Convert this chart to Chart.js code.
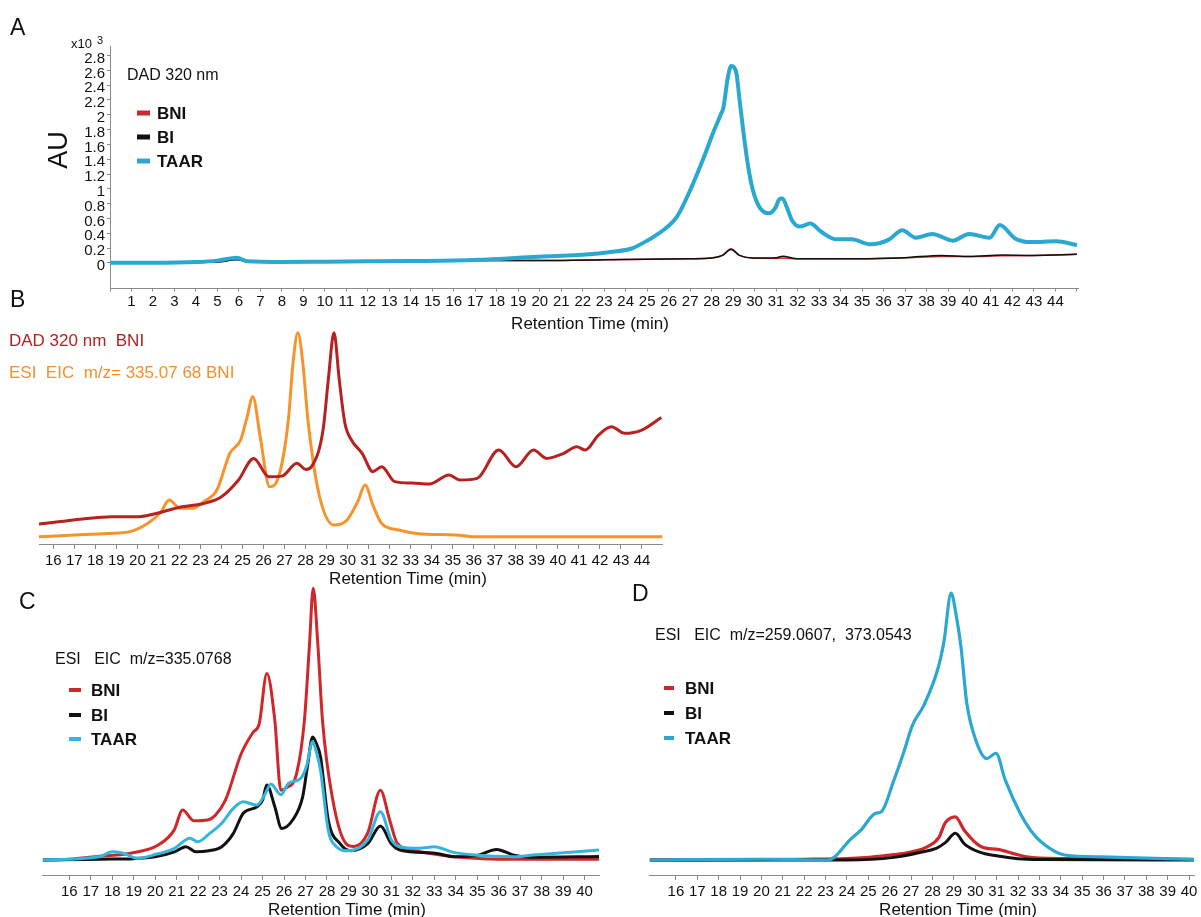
<!DOCTYPE html>
<html>
<head>
<meta charset="utf-8">
<script src="https://cdn.jsdelivr.net/npm/chart.js@4/dist/chart.umd.min.js"></script>
<style>
body{margin:0;background:#fff;width:1201px;height:917px;overflow:hidden;position:relative;font-family:'Liberation Sans',Arial,sans-serif;color:#111}
canvas{position:absolute}
.t{position:absolute;white-space:pre;line-height:1;transform:translateY(-50%)}
.c{transform:translate(-50%,-50%)}
.lg{position:absolute;transform:translateY(-50%)}
.b{font-weight:bold;font-size:17px}
</style>
</head>
<body>
<canvas id="chartA" width="1100" height="340" style="left:0;top:0"></canvas>
<canvas id="chartB" width="680" height="265" style="left:0;top:325px"></canvas>
<canvas id="chartC" width="620" height="332" style="left:0;top:585px"></canvas>
<canvas id="chartD" width="571" height="332" style="left:630px;top:585px"></canvas>

<div class="t" style="left:10px;top:27px;font-size:23px">A</div>
<div class="t" style="left:10px;top:299px;font-size:23px">B</div>
<div class="t" style="left:19px;top:601px;font-size:23px">C</div>
<div class="t" style="left:632px;top:593px;font-size:23px">D</div>

<div class="t" style="left:71px;top:43px;font-size:13px">x10</div>
<div class="t" style="left:97px;top:40px;font-size:11px">3</div>
<div class="t c" style="left:58px;top:150px;font-size:27px;transform:translate(-50%,-50%) rotate(-90deg)">AU</div>
<div class="t" style="left:127px;top:75px;font-size:16px">DAD 320 nm</div>
<div class="lg" style="left:137px;top:112.7px;width:13px;height:5px;background:#cc2a2a"></div>
<div class="lg" style="left:137px;top:136.5px;width:13px;height:5px;background:#111"></div>
<div class="lg" style="left:137px;top:161px;width:13px;height:5px;background:#2aa8d2"></div>
<div class="t b" style="left:157px;top:112.7px">BNI</div>
<div class="t b" style="left:157px;top:136.5px">BI</div>
<div class="t b" style="left:157px;top:161px">TAAR</div>
<div class="t c" style="left:590px;top:323px;font-size:17px">Retention Time (min)</div>

<div class="t" style="left:9px;top:340px;font-size:17px;color:#b5221f">DAD 320 nm  BNI</div>
<div class="t" style="left:9px;top:372px;font-size:17px;color:#f29030">ESI  EIC  m/z= 335.07 68 BNI</div>
<div class="t c" style="left:408px;top:578px;font-size:17px">Retention Time (min)</div>

<div class="t" style="left:55px;top:659px;font-size:16px">ESI   EIC  m/z=335.0768</div>
<div class="lg" style="left:69px;top:690px;width:12px;height:4px;background:#d0282a"></div>
<div class="lg" style="left:69px;top:715px;width:12px;height:4px;background:#111"></div>
<div class="lg" style="left:69px;top:739px;width:12px;height:4px;background:#33b5dd"></div>
<div class="t b" style="left:91px;top:690px">BNI</div>
<div class="t b" style="left:91px;top:715px">BI</div>
<div class="t b" style="left:91px;top:739px">TAAR</div>
<div class="t c" style="left:347px;top:909px;font-size:17px">Retention Time (min)</div>

<div class="t" style="left:655px;top:635px;font-size:16px">ESI   EIC  m/z=259.0607,  373.0543</div>
<div class="lg" style="left:664px;top:688px;width:10px;height:4px;background:#d0282a"></div>
<div class="lg" style="left:664px;top:713px;width:10px;height:4px;background:#111"></div>
<div class="lg" style="left:664px;top:738px;width:10px;height:4px;background:#2aa8d2"></div>
<div class="t b" style="left:685px;top:688px">BNI</div>
<div class="t b" style="left:685px;top:713px">BI</div>
<div class="t b" style="left:685px;top:738px">TAAR</div>
<div class="t c" style="left:958px;top:909px;font-size:17px">Retention Time (min)</div>

<script>
// A: DAD 320 nm, AU x10^3
const aTaarT = [0, 2, 4, 5, 5.9, 6.4, 8, 10, 12, 14, 16, 17.2, 18.5, 20.4, 22, 23.4, 24.24, 25, 25.74, 26.38, 27.03, 27.67, 28.1, 28.42, 28.55, 28.75, 28.91, 29.05, 29.16, 29.3, 29.49, 29.7, 29.92, 30.23, 30.67, 30.98, 31.15, 31.3, 31.5, 31.73, 32.1, 32.59, 33.1, 33.77, 34.52, 35.37, 36.23, 36.87, 37.5, 38.27, 39.23, 39.98, 40.94, 41.41, 42.12, 42.87, 44.03, 45.0];
const aTaarV = [0, 0, 0.01, 0.03, 0.07, 0.02, 0.01, 0.015, 0.02, 0.025, 0.03, 0.04, 0.06, 0.09, 0.11, 0.15, 0.19, 0.3, 0.44, 0.62, 1.0, 1.45, 1.78, 2.0, 2.1, 2.5, 2.66, 2.64, 2.55, 2.2, 1.74, 1.3, 0.98, 0.75, 0.67, 0.75, 0.86, 0.87, 0.75, 0.58, 0.49, 0.53, 0.42, 0.32, 0.32, 0.25, 0.31, 0.44, 0.34, 0.39, 0.30, 0.39, 0.34, 0.51, 0.33, 0.28, 0.29, 0.24];
const aBniT = [0, 5, 5.9, 6.5, 10, 15, 17, 20, 23, 25, 27, 28, 28.5, 28.9, 29.3, 29.9, 31, 31.3, 32, 35, 37, 38.7, 40, 41.5, 43, 45];
const aBniV = [0, 0.01, 0.05, 0.01, 0.01, 0.02, 0.03, 0.03, 0.04, 0.05, 0.055, 0.065, 0.1, 0.19, 0.1, 0.065, 0.06, 0.065, 0.055, 0.055, 0.07, 0.085, 0.085, 0.095, 0.1, 0.115];
const aBiV = [0, 0.01, 0.04, 0.01, 0.01, 0.02, 0.03, 0.03, 0.04, 0.05, 0.055, 0.065, 0.1, 0.18, 0.1, 0.065, 0.07, 0.09, 0.055, 0.055, 0.07, 0.1, 0.085, 0.105, 0.1, 0.115];

// B: DAD 320 nm BNI vs ESI EIC BNI (relative)
const bDadT = [15.32, 16.35, 17.38, 18.82, 20.06, 20.89, 22.13, 23.16, 24.0, 24.81, 25.53, 26.25, 26.87, 27.59, 28.0, 28.3, 28.83, 29.08, 29.35, 29.6, 29.87, 30.18, 30.69, 31.2, 31.62, 32.24, 33.07, 33.89, 34.82, 35.34, 36.16, 37.19, 38.01, 38.84, 39.46, 40.28, 40.9, 41.3, 41.93, 42.55, 43.17, 43.99, 44.92];
const bDadV = [6.2, 7.4, 8.7, 9.8, 9.8, 11.4, 14.7, 16.3, 19.6, 27.8, 38.4, 29.4, 29.7, 36, 33, 34.6, 52.3, 77, 100, 77, 55.6, 47.4, 40.9, 31.9, 34.3, 27, 26.3, 25.8, 30.2, 27.8, 28.6, 42.5, 34.3, 42.5, 38.4, 40.9, 44.1, 42.5, 49.8, 53.9, 50.7, 52.3, 58.5];
const bEsiT = [15.32, 17, 18.62, 19.65, 20.48, 21.1, 21.51, 22.03, 22.64, 23.16, 23.78, 24.4, 24.91, 25.2, 25.49, 25.84, 26.29, 26.67, 27.18, 27.4, 27.63, 27.87, 28.11, 28.63, 29.35, 29.97, 30.48, 30.83, 31.2, 31.62, 32.45, 33.28, 35.14, 36, 40, 44.98];
const bEsiV = [0, 0.8, 1.6, 2.5, 6.5, 11.8, 18, 13.9, 13.9, 17.2, 22.9, 40.9, 47.4, 58, 68.6, 49, 24.5, 28, 57.2, 85, 100, 85, 57.2, 21.2, 5.7, 8.2, 17.2, 25.3, 15.5, 6.5, 3.3, 1.6, 0.8, 0, 0, 0];

// C: ESI EIC m/z=335.0768 (relative)
const cBniT = [14.76, 16, 17.2, 18.85, 20.14, 20.88, 21.28, 21.8, 22.44, 22.8, 23.27, 24.0, 24.56, 24.84, 25.2, 25.57, 25.85, 26.1, 26.59, 26.95, 27.18, 27.36, 27.57, 27.79, 28.25, 28.89, 29.25, 29.9, 30.49, 30.92, 31.28, 32.1, 33.95, 35.25, 37, 40.67];
const cBniV = [0, 0.3, 1.2, 2.5, 5.5, 11, 18.4, 14.4, 14.7, 16.5, 22, 39, 47, 50, 68.6, 51.5, 25.7, 26.5, 32, 51.5, 78.5, 100, 80, 51.5, 23, 6, 5, 10, 25.7, 14.7, 6.1, 3.4, 1.2, 0.5, 0.3, 0.3];
const cBiT = [14.76, 17.5, 19, 20, 20.9, 21.43, 21.9, 22.5, 23.1, 23.64, 24.1, 24.74, 25.0, 25.2, 25.57, 25.89, 26.4, 26.87, 27.1, 27.33, 27.55, 27.7, 28.06, 28.61, 29.1, 29.9, 30.49, 31.0, 31.4, 33.03, 33.95, 35.05, 35.9, 36.7, 37.5, 40.67];
const cBiV = [0, 0.3, 0.5, 1.2, 3, 4.9, 3, 3.4, 4.9, 9.8, 17.2, 19.6, 22, 27.6, 19.6, 11.6, 14.7, 23.3, 35, 45.3, 42, 38, 14.7, 6, 3.4, 6, 12.5, 6, 3.7, 2.5, 1.2, 1.8, 3.9, 1.8, 1, 1.3];
const cTaarT = [14.76, 17.4, 18.0, 18.5, 19.2, 19.9, 20.9, 21.62, 21.98, 22.54, 23.1, 23.64, 24.1, 24.74, 25.1, 25.39, 25.85, 26.21, 26.77, 27.04, 27.33, 27.5, 27.7, 28.06, 28.43, 28.98, 29.9, 30.49, 31.0, 31.4, 32.3, 33.0, 33.8, 34.9, 36.7, 37.6, 40.67];
const cTaarV = [0, 1.2, 3, 2.5, 0.6, 1.8, 4.3, 8, 6.7, 9.8, 13.5, 19, 21.4, 20.2, 24, 28, 24, 28.2, 30, 34.3, 43.5, 40, 33, 11, 5, 3.4, 7.4, 17.8, 7.4, 4.9, 4.3, 4.9, 3, 1.8, 1.2, 1.8, 3.7];

// D: ESI EIC m/z=259.0607, 373.0543 (relative)
const dTaarT = [14.77, 20, 23.1, 23.4, 24.13, 24.65, 25.34, 25.6, 26.2, 26.64, 27.07, 27.6, 28.28, 28.54, 28.87, 29.1, 29.33, 29.6, 30.02, 30.54, 30.97, 31.4, 32.1, 32.6, 33.14, 34.18, 35.9, 40.23];
const dTaarV = [0, 0.3, 0, 1, 7.5, 11.2, 17.5, 18, 30, 40, 50.6, 58, 72.4, 82, 100, 92, 80, 59, 45, 38, 40, 30, 17.5, 11, 6.4, 1.9, 1.2, 0.2];
const dBniT = [14.77, 22, 24, 26.2, 27.0, 27.77, 28.3, 28.6, 29.07, 29.5, 30.28, 31.05, 31.75, 32.4, 34, 40.23];
const dBniV = [0, 0.3, 0.5, 2, 3, 5, 8.5, 14, 16.2, 11, 5, 4, 2.5, 1.2, 0.5, 0.3];
const dBiT = [14.77, 24, 26.2, 27.5, 28.2, 28.6, 29.07, 29.5, 30.2, 31.0, 32.0, 33, 40.23];
const dBiV = [0, 0, 1, 3, 4.5, 6.5, 10, 6, 3, 1.6, 0.5, 0.2, 0];

const FONT = "'Liberation Sans', Arial, sans-serif";
const AXIS = '#8a8a8a';

function pts(t, v) {
  return t.map((x, i) => ({x: x, y: v[i]}));
}

function line(t, v, color, width) {
  return {
    data: pts(t, v),
    borderColor: color,
    borderWidth: width,
    pointRadius: 0,
    fill: false,
    cubicInterpolationMode: 'monotone'
  };
}

function xAxis(min, max, firstTick, lastLabel, tickLen, pad, height) {
  return {
    type: 'linear',
    min: min,
    max: max,
    afterBuildTicks: s => { s.ticks = s.ticks.filter(k => k.value >= firstTick); },
    afterFit: s => { s.height = height; },
    ticks: {
      stepSize: 1,
      maxTicksLimit: 100,
      includeBounds: false,
      autoSkip: false,
      maxRotation: 0,
      padding: pad,
      color: '#111',
      font: {family: FONT, size: 15},
      callback: v => (v >= 1 && v <= lastLabel) ? String(v) : ''
    },
    grid: {display: true, drawOnChartArea: false, drawTicks: true, tickLength: tickLen, color: AXIS},
    border: {display: true, color: AXIS}
  };
}

function createChart(id, datasets, scales, padding) {
  const ctx = document.getElementById(id);
  new Chart(ctx, {
    type: 'line',
    data: {datasets: datasets},
    options: {
      responsive: false,
      animation: false,
      devicePixelRatio: 1,
      layout: {padding: padding},
      plugins: {legend: {display: false}, tooltip: {enabled: false}},
      scales: scales
    }
  });
}

createChart('chartA', [
  line(aTaarT, aTaarV, '#2aa8d2', 4),
  line(aBniT, aBiV, '#111111', 1.5),
  line(aBniT, aBniV, '#cc2a2a', 1.5)
], {
  x: xAxis(0, 45.05, 0, 44, 3.5, 1.2, 52),
  y: {
    min: -0.34,
    max: 2.92,
    afterBuildTicks: s => { s.ticks = s.ticks.filter(k => k.value >= -1e-9); },
    afterFit: s => { s.width = 110; },
    ticks: {
      stepSize: 0.2,
      maxTicksLimit: 100,
      includeBounds: false,
      autoSkip: false,
      padding: 2,
      labelOffset: 3,
      color: '#111',
      font: {family: FONT, size: 15},
      callback: v => String(Math.round(v * 10) / 10)
    },
    grid: {display: true, drawOnChartArea: false, drawTicks: true, tickLength: 3, color: AXIS},
    border: {display: true, color: AXIS}
  }
}, {left: 0, top: 46.7, right: 22, bottom: 0});

createChart('chartB', [
  line(bDadT, bDadV, '#b7211f', 3),
  line(bEsiT, bEsiV, '#f7932c', 3)
], {
  x: xAxis(15.32, 44.98, 16, 44, 5, 2.7, 46),
  y: {display: false, min: -3.58, max: 103.8}
}, {left: 39, top: 0, right: 17.4, bottom: 0});

createChart('chartC', [
  line(cTaarT, cTaarV, '#33b5dd', 3),
  line(cBiT, cBiV, '#111111', 3),
  line(cBniT, cBniV, '#d0282a', 3)
], {
  x: xAxis(14.76, 40.67, 16, 40, 5, 3, 42),
  y: {display: false, min: -5.52, max: 101.2}
}, {left: 42.7, top: 0, right: 21, bottom: 0});

createChart('chartD', [
  line(dTaarT, dTaarV, '#2aa8d2', 3.2),
  line(dBiT, dBiV, '#111111', 3),
  line(dBniT, dBniV, '#d0282a', 3.2)
], {
  x: xAxis(14.77, 40.23, 16, 40, 5, 3, 42),
  y: {display: false, min: -5.6, max: 103}
}, {left: 19.6, top: 0, right: 7, bottom: 0});
</script>
</body>
</html>
